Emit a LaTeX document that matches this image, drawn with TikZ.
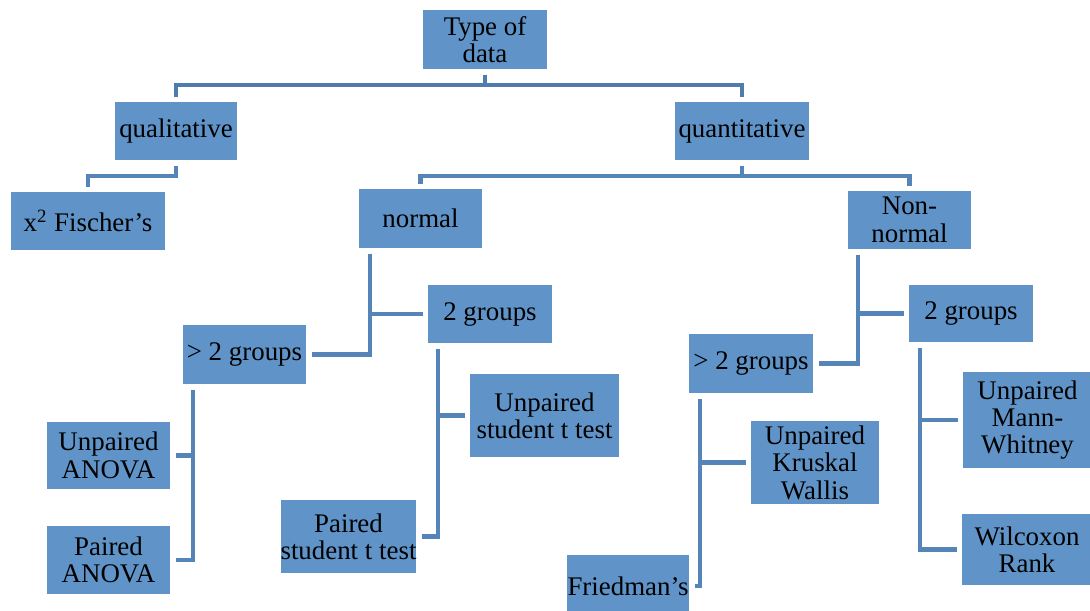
\documentclass[tikz,border=0pt]{standalone}
\usepackage{fontspec}
\setmainfont{Liberation Serif}
\usetikzlibrary{
    positioning,
    calc
}
\definecolor{boxcol}{HTML}{6094C8}
\definecolor{linecol}{HTML}{5584B8}
\definecolor{toplinecol}{HTML}{4F7CAD}

\begin{document}
\begin{tikzpicture}[
    font=\fontsize{15.3}{15.6}\selectfont,
    tbox/.style={
        fill=boxcol, draw=none, inner sep=0pt, outer sep=0.11cm,
        align=center, text=black
    },
    conn/.style={draw=linecol, line width=2.4pt},
]
\useasboundingbox (0,0) rectangle (21.8,-12.2);

% ── Nodes (top to bottom) ──

% Root
\node[tbox, minimum width=2.48cm, minimum height=1.18cm] (tod) at (9.70,-0.79) {Type of\\data};

% --- Level 1 ---
\node[tbox, minimum width=2.44cm, minimum height=1.16cm] (qual) at (3.52,-2.62) {qualitative};
\node[tbox, minimum width=2.68cm, minimum height=1.16cm] (quant) at (14.84,-2.62) {quantitative};

% --- Level 2 ---
\node[tbox, minimum width=3.06cm, minimum height=1.16cm] (chi) at (1.76,-4.42) {x\textsuperscript{2} Fischer’s};
\node[tbox, minimum width=2.46cm, minimum height=1.18cm] (normal) at (8.41,-4.37) {normal};
\node[tbox, minimum width=2.46cm, minimum height=1.16cm] (nonnormal) at (18.19,-4.40) {Non-\\normal};

% --- Normal branch ---
\node[tbox, minimum width=2.48cm, minimum height=1.16cm] (ntwo) at (9.80,-6.28) {2 groups};
\node[tbox, minimum width=2.46cm, minimum height=1.18cm] (nmore) at (4.89,-7.09) {> 2 groups};
\node[tbox, minimum width=2.46cm, minimum height=1.34cm] (uanova) at (2.17,-9.11) {Unpaired\\ANOVA};
\node[tbox, minimum width=2.46cm, minimum height=1.36cm] (panova) at (2.17,-11.20) {Paired\\ANOVA};
\node[tbox, minimum width=2.98cm, minimum height=1.66cm] (ustt) at (10.89,-8.31) {Unpaired\\student t test};
\node[tbox, minimum width=2.70cm, minimum height=1.46cm] (pstt) at (6.97,-10.73) {Paired\\student t test};

% --- Non-normal branch ---
\node[tbox, minimum width=2.48cm, minimum height=1.14cm] (nntwo) at (19.42,-6.27) {2 groups};
\node[tbox, minimum width=2.48cm, minimum height=1.18cm] (nnmore) at (15.02,-7.27) {> 2 groups};
\node[tbox, minimum width=2.56cm, minimum height=1.66cm] (kw) at (16.30,-9.25) {Unpaired\\Kruskal\\Wallis};
\node[tbox, minimum width=2.44cm, minimum height=1.24cm] (fried) at (12.56,-11.72) {Friedman’s};
\node[tbox, minimum width=2.58cm, minimum height=1.92cm] (mw) at (20.55,-8.40) {Unpaired\\Mann-\\Whitney};
\node[tbox, minimum width=2.60cm, minimum height=1.42cm] (wr) at (20.54,-10.99) {Wilcoxon\\Rank};

% ── Connectors ──

% Root split
\draw[conn, draw=toplinecol] (tod.south) -- ++(0,-0.21) -| (qual.north);
\draw[conn, draw=toplinecol] (tod.south) -- ++(0,-0.21) -| (quant.north);

% qualitative / quantitative
\draw[conn] (qual.south) -- ++(0,-0.21) -| (chi.north);
\draw[conn] (quant.south) -- ++(0,-0.21) -| (normal.north);
\draw[conn] (quant.south) -- ++(0,-0.21) -| (nonnormal.north);

% Side trunks (left edge of each parent)
\coordinate (normtrunk) at ([xshift=0.33cm]normal.south west);
\draw[conn] (normtrunk) |- (ntwo.west);
\draw[conn] (normtrunk) |- (nmore.east);

\coordinate (nmoretrunk) at ([xshift=0.31cm]nmore.south west);
\draw[conn] (nmoretrunk) |- (uanova.east);
\draw[conn] (nmoretrunk) |- (panova.east);

\coordinate (ntwotrunk) at ([xshift=0.31cm]ntwo.south west);
\draw[conn] (ntwotrunk) |- (ustt.west);
\draw[conn] (ntwotrunk) |- (pstt.east);

\coordinate (nonnormtrunk) at ([xshift=0.31cm]nonnormal.south west);
\draw[conn] (nonnormtrunk) |- (nntwo.west);
\draw[conn] (nonnormtrunk) |- (nnmore.east);

\coordinate (nnmoretrunk) at ([xshift=0.33cm]nnmore.south west);
\draw[conn] (nnmoretrunk) |- (kw.west);
\draw[conn] (nnmoretrunk) |- (fried.east);

\coordinate (nntwotrunk) at ([xshift=0.33cm]nntwo.south west);
\draw[conn] (nntwotrunk) |- (mw.west);
\draw[conn] (nntwotrunk) |- (wr.west);

\end{tikzpicture}
\end{document}
